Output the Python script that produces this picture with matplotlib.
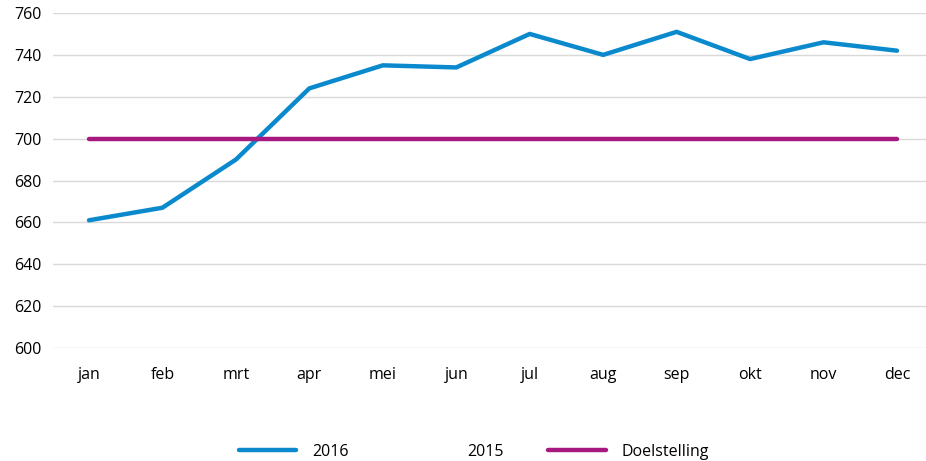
import matplotlib.pyplot as plt
import numpy as np

months = ["jan", "feb", "mrt", "apr", "mei", "jun", "jul", "aug", "sep", "okt", "nov", "dec"]
values_2016 = [661, 667, 690, 724, 735, 734, 750, 740, 751, 738, 746, 742]
values_2015 = [np.nan] * 12
target = [700] * 12
y_ticks = [600, 620, 640, 660, 680, 700, 720, 740, 760]

plt.rcParams["font.family"] = ["Open Sans", "DejaVu Sans"]

fig = plt.figure(figsize=(9.26, 4.61), dpi=100)
ax = fig.add_axes([53 / 926, 1 - 348 / 461, 1 - 53 / 926, (348 - 13) / 461])

x = np.arange(len(months))
ax.plot(x, values_2016, color="#0a8acd", lw=3.2, label="2016", solid_capstyle="round", zorder=3)
ax.plot(x, values_2015, color="none", lw=3.2, label="2015")
ax.plot(x, target, color="#a8197f", lw=3.2, label="Doelstelling", solid_capstyle="round", zorder=3)

ax.set_xlim(-0.49, 11.395)
ax.set_ylim(600, 760)
ax.set_yticks(y_ticks)
ax.set_xticks(x, months)
ax.grid(axis="y", color="#d9d9d9", lw=1)
ax.set_axisbelow(True)
for s in ax.spines.values():
    s.set_visible(False)
ax.tick_params(length=0, labelsize=11.5, colors="#000000")
ax.tick_params(axis="y", pad=8)
ax.tick_params(axis="x", pad=14)

fig.legend(loc="center", bbox_to_anchor=(0.512, 1 - 452 / 461), ncol=3, frameon=False,
           fontsize=11.5, handlelength=3.6, columnspacing=2.8, handletextpad=1.0)

fig.savefig("out.png", dpi=100)
